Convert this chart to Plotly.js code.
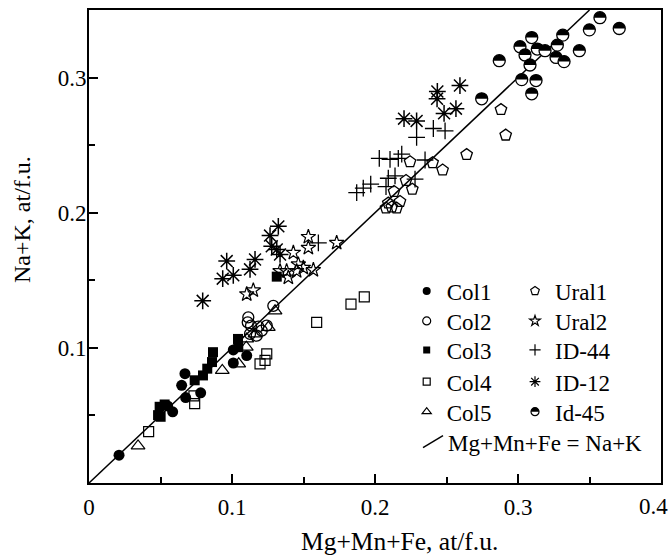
<!DOCTYPE html>
<html>
<head>
<meta charset="utf-8">
<script src="https://cdn.plot.ly/plotly-3.0.1.min.js"></script>
<style>html,body{margin:0;padding:0;background:#fff;}#chart{width:672px;height:555px;}</style>
</head>
<body>
<div id="chart"></div>
<script>
// ---- data (Mg+Mn+Fe, Na+K in at/f.u.) ----
var col1X = [0.021, 0.0585, 0.055, 0.0671, 0.0648, 0.0676, 0.0781, 0.1009, 0.1009, 0.1103];
var col1Y = [0.0206, 0.0527, 0.057, 0.0809, 0.0723, 0.0632, 0.0667, 0.0985, 0.0888, 0.0943];
var col2X = [0.1114, 0.111, 0.1133, 0.1184, 0.1243, 0.1208, 0.1173, 0.1126, 0.1289];
var col2Y = [0.1226, 0.1189, 0.1164, 0.1157, 0.1164, 0.1127, 0.109, 0.1103, 0.1311];
var col3X = [0.0494, 0.0529, 0.0483, 0.0501, 0.0739, 0.0797, 0.0827, 0.0867, 0.086, 0.1042, 0.1044, 0.1313];
var col3Y = [0.0564, 0.0581, 0.0502, 0.049, 0.076, 0.0796, 0.0846, 0.0968, 0.0895, 0.1066, 0.1005, 0.1527];
var col4X = [0.0417, 0.0734, 0.0739, 0.1243, 0.1231, 0.1196, 0.1592, 0.1832, 0.1925];
var col4Y = [0.038, 0.0645, 0.0588, 0.0956, 0.0907, 0.0882, 0.1189, 0.1324, 0.1377];
var col5X = [0.0343, 0.0932, 0.1047, 0.11, 0.1103, 0.1161, 0.1254, 0.1301];
var col5Y = [0.0274, 0.0833, 0.0882, 0.1005, 0.1066, 0.1103, 0.1152, 0.1274];
var ural1X = [0.2245, 0.2403, 0.2473, 0.2217, 0.2261, 0.2175, 0.2133, 0.2093, 0.2077, 0.2117, 0.2151, 0.2881, 0.2914, 0.2641];
var ural1Y = [0.2377, 0.237, 0.2316, 0.2238, 0.2174, 0.2083, 0.2157, 0.2071, 0.2034, 0.2042, 0.2034, 0.2763, 0.2574, 0.243];
var ural2X = [0.1534, 0.1534, 0.1429, 0.1464, 0.1499, 0.1452, 0.1382, 0.1394, 0.1336, 0.1569, 0.1732, 0.1103, 0.1149];
var ural2Y = [0.1821, 0.174, 0.1704, 0.1618, 0.1593, 0.1568, 0.1568, 0.152, 0.1568, 0.1576, 0.1777, 0.1397, 0.1426];
var id44X = [0.203, 0.2105, 0.2163, 0.2187, 0.235, 0.2408, 0.249, 0.2291, 0.1872, 0.1918, 0.197, 0.2093, 0.214, 0.2077, 0.228, 0.1604];
var id44Y = [0.2402, 0.2395, 0.2402, 0.2434, 0.239, 0.2623, 0.2605, 0.2557, 0.2149, 0.2182, 0.2211, 0.2255, 0.2272, 0.2193, 0.2248, 0.1777];
var id12X = [0.1324, 0.1266, 0.1278, 0.1313, 0.1336, 0.0963, 0.1161, 0.1126, 0.1009, 0.0935, 0.0795, 0.2203, 0.2291, 0.2434, 0.2436, 0.2483, 0.2566, 0.2594];
var id12Y = [0.1899, 0.1831, 0.1752, 0.1728, 0.1691, 0.1642, 0.1654, 0.1581, 0.1537, 0.1512, 0.1348, 0.2696, 0.2679, 0.2843, 0.2897, 0.2735, 0.277, 0.2941];
var id45X = [0.2869, 0.2746, 0.3096, 0.3014, 0.3049, 0.3135, 0.3189, 0.3313, 0.3275, 0.3266, 0.3322, 0.3429, 0.3084, 0.3026, 0.3126, 0.3096, 0.3499, 0.3573, 0.3708];
var id45Y = [0.3125, 0.2843, 0.3296, 0.3228, 0.3167, 0.3211, 0.3199, 0.3314, 0.324, 0.3149, 0.3118, 0.3199, 0.3093, 0.2985, 0.2978, 0.288, 0.3353, 0.3443, 0.3363];
var lineX = [0, 0.35];
var lineY = [0, 0.35];
var xTickVals = [0, 0.1, 0.2, 0.3, 0.4];
var xTickText = ['0', '0.1', '0.2', '0.3', '0.4'];
var yTickVals = [0.1, 0.2, 0.3];
var yTickText = ['0.1', '0.2', '0.3'];
var seriesNames = ['Col1', 'Col2', 'Col3', 'Col4', 'Col5', 'Ural1', 'Ural2', 'ID-44', 'ID-12', 'Id-45'];
var lineName = 'Mg+Mn+Fe = Na+K';
var xTitle = 'Mg+Mn+Fe, at/f.u.';
var yTitle = 'Na+K, at/f.u.';

// ---- styling ----
var FONT = 'Liberation Serif';
var styles = [
  {symbol: 'circle', size: 11, color: '#000', line: {width: 0}},
  {symbol: 'circle-open', size: 11, color: '#000', line: {width: 1.3}},
  {symbol: 'square', size: 10, color: '#000', line: {width: 0}},
  {symbol: 'square-open', size: 10, color: '#000', line: {width: 1.2}},
  {symbol: 'triangle-up-open', size: 12, color: '#000', line: {width: 1.2}},
  {symbol: 'pentagon-open', size: 12, color: '#000', line: {width: 1.3}},
  {symbol: 'star-open', size: 11, color: '#000', line: {width: 1.2}},
  {symbol: 'cross-thin-open', size: 12, color: '#000', line: {width: 1.3}},
  {symbol: 'asterisk-open', size: 14, color: '#000', line: {width: 1.5}},
  {symbol: 'circle', size: 12, color: '#fff', line: {width: 1.3, color: '#000'}}
];
var legendStyles = [
  {symbol: 'circle', size: 8, color: '#000', line: {width: 0}},
  {symbol: 'circle-open', size: 8, color: '#000', line: {width: 1.2}},
  {symbol: 'square', size: 7, color: '#000', line: {width: 0}},
  {symbol: 'square-open', size: 7, color: '#000', line: {width: 1.2}},
  {symbol: 'triangle-up-open', size: 8, color: '#000', line: {width: 1.2}},
  {symbol: 'pentagon-open', size: 9, color: '#000', line: {width: 1.2}},
  {symbol: 'star-open', size: 8, color: '#000', line: {width: 1.2}},
  {symbol: 'cross-thin-open', size: 8, color: '#000', line: {width: 1.2}},
  {symbol: 'asterisk-open', size: 9, color: '#000', line: {width: 1.2}},
  {symbol: 'circle', size: 8, color: '#fff', line: {width: 1.2, color: '#000'}}
];
var xs = [col1X, col2X, col3X, col4X, col5X, ural1X, ural2X, id44X, id12X, id45X];
var ys = [col1Y, col2Y, col3Y, col4Y, col5Y, ural1Y, ural2Y, id44Y, id12Y, id45Y];

var traces = [{
  type: 'scatter', mode: 'lines', x: lineX, y: lineY, name: lineName,
  line: {color: '#000', width: 1.5}, showlegend: true, legend: 'legend11', hoverinfo: 'skip'
}];
for (var i = 0; i < seriesNames.length; i++) {
  traces.push({type: 'scatter', mode: 'markers', x: xs[i], y: ys[i], name: seriesNames[i],
    marker: styles[i], showlegend: false, cliponaxis: false});
}
for (var j = 0; j < seriesNames.length; j++) {
  traces.push({type: 'scatter', mode: 'markers', x: [null], y: [null], name: seriesNames[j],
    marker: legendStyles[j], showlegend: true, legend: j === 0 ? 'legend' : 'legend' + (j + 1)});
}

// plot area: x 89..661, y 10..483
function px2paperX(p) { return (p - 89) / 572; }
function px2paperY(p) { return (483 - p) / 473; }
var rowY = [291, 321, 350, 381.7, 411.7];
var layout = {
  width: 672, height: 555,
  margin: {l: 89, r: 11, t: 10, b: 72, pad: 0},
  paper_bgcolor: '#fff', plot_bgcolor: '#fff',
  font: {family: FONT, size: 23, color: '#000'},
  showlegend: true,
  xaxis: {
    range: [0, 0.4], tickmode: 'array', tickvals: xTickVals.slice(0, 4), ticktext: xTickText.slice(0, 4),
    showline: true, linewidth: 2, linecolor: '#000', mirror: true,
    ticks: 'inside', ticklen: 9, tickwidth: 2, tickcolor: '#000',
    minor: {tickmode: 'linear', tick0: 0.05, dtick: 0.1, ticks: 'inside', ticklen: 6, tickwidth: 2, tickcolor: '#000'},
    showgrid: false, zeroline: false, automargin: false,
    tickfont: {family: FONT, size: 23, color: '#000'}, ticklabelstandoff: 2
  },
  yaxis: {
    range: [0, 0.35], tickmode: 'array', tickvals: yTickVals, ticktext: yTickText,
    showline: true, linewidth: 2, linecolor: '#000', mirror: true,
    ticks: 'inside', ticklen: 9, tickwidth: 2, tickcolor: '#000',
    minor: {tickmode: 'linear', tick0: 0.05, dtick: 0.1, ticks: 'inside', ticklen: 6, tickwidth: 2, tickcolor: '#000'},
    showgrid: false, zeroline: false, automargin: false,
    tickfont: {family: FONT, size: 23, color: '#000'}, ticklabelstandoff: -4
  },
  annotations: [
    {xref: 'x', yref: 'paper', x: xTickVals[4], y: px2paperY(507), text: xTickText[4],
     xanchor: 'right', yanchor: 'middle', xshift: 9, showarrow: false,
     font: {family: FONT, size: 23, color: '#000'}},
    {xref: 'paper', yref: 'paper', x: px2paperX(399), y: px2paperY(541), text: xTitle,
     xanchor: 'center', yanchor: 'middle', showarrow: false,
     font: {family: FONT, size: 25.5, color: '#000'}},
    {xref: 'paper', yref: 'paper', x: px2paperX(22), y: px2paperY(220), text: yTitle,
     xanchor: 'center', yanchor: 'middle', textangle: -90, showarrow: false,
     font: {family: FONT, size: 24, color: '#000'}}
  ]
};
var legendFont = {family: FONT, size: 23, color: '#000'};
for (var k = 0; k < 10; k++) {
  var key = k === 0 ? 'legend' : 'legend' + (k + 1);
  var col = k < 5 ? 0 : 1;
  var symCenter = col === 0 ? 426.7 : 535;
  layout[key] = {
    x: px2paperX(symCenter - 20), y: px2paperY(rowY[k % 5]), xanchor: 'left', yanchor: 'middle',
    bgcolor: 'rgba(0,0,0,0)', borderwidth: 0, font: legendFont, itemclick: false, itemdoubleclick: false
  };
}
layout.legend11 = {
  x: px2paperX(408), y: px2paperY(441.7), xanchor: 'left', yanchor: 'middle',
  bgcolor: 'rgba(0,0,0,0)', borderwidth: 0, font: legendFont, itemclick: false, itemdoubleclick: false
};

var SVGNS = 'http://www.w3.org/2000/svg';
function halfDisk(r) { return 'M' + (-r) + ',0A' + r + ',' + r + ' 0 0 1 ' + r + ',0Z'; }
function decorate(gd) {
  // Id-45: upper half filled
  gd.querySelectorAll('.scatterlayer .trace').forEach(function (g) {
    var d = g.__data__; var tr = d && d[0] && d[0].trace;
    if (!tr || tr.name !== 'Id-45') return;
    var r = tr.marker.size / 2;
    g.querySelectorAll('path.point').forEach(function (p) {
      var h = document.createElementNS(SVGNS, 'path');
      h.setAttribute('d', halfDisk(r));
      h.setAttribute('transform', p.getAttribute('transform'));
      h.setAttribute('style', 'fill:#000;stroke:none');
      p.parentNode.appendChild(h);
    });
  });
  gd.querySelectorAll('g.traces').forEach(function (g) {
    var d = g.__data__; var tr = d && d[0] && d[0].trace;
    if (!tr) return;
    if (tr.name === 'Id-45') {
      var r = tr.marker.size / 2;
      g.querySelectorAll('path.scatterpts').forEach(function (p) {
        var h = document.createElementNS(SVGNS, 'path');
        h.setAttribute('d', halfDisk(r));
        h.setAttribute('transform', p.getAttribute('transform') || 'translate(20,0)');
        h.setAttribute('style', 'fill:#000;stroke:none');
        p.parentNode.appendChild(h);
      });
    }
    if (tr.name === lineName) {
      g.querySelectorAll('path.js-line').forEach(function (p) { p.setAttribute('d', 'M15,6L35,-6'); });
    }
  });
}
Plotly.newPlot('chart', traces, layout, {staticPlot: true, displayModeBar: false}).then(decorate);
</script>
</body>
</html>
